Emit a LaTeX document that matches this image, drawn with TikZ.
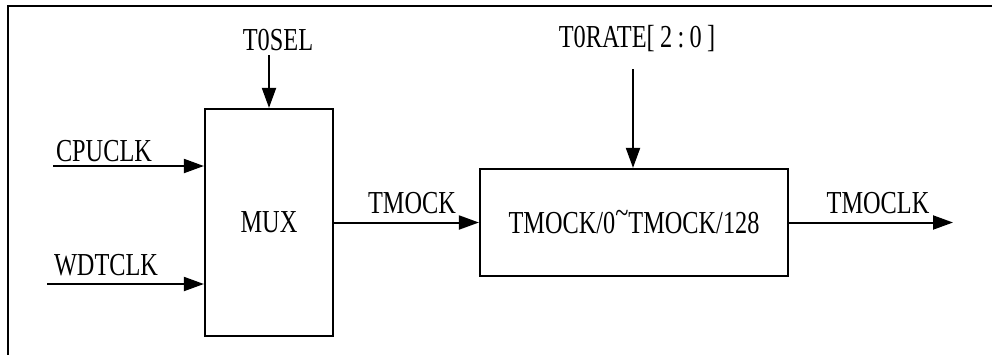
\documentclass[tikz,border=0pt]{standalone}
\usepackage{fontspec}
\setmainfont{Liberation Serif}[FakeStretch=0.76]
\usetikzlibrary{arrows.meta}
\begin{document}
\begin{tikzpicture}[x=1pt,y=-1pt,line width=2pt,
  sig/.style={-{Triangle[length=20pt,width=14pt]}},
  lbl/.style={font=\fontsize{32}{38}\selectfont,inner sep=0pt},
  blk/.style={draw,line width=2.2pt,inner sep=0pt,font=\fontsize{32}{38}\selectfont}]
\useasboundingbox (0,0) rectangle (992,354);
% outer frame, open to the right and bottom
\begin{scope}
  \clip (0,0) rectangle (992,354);
  \draw (1000,6) -- (8,6) -- (8,360);
\end{scope}

% blocks
\node[blk,minimum width=128pt,minimum height=227pt] (mux) at (269,222.5) {MUX};
\node[blk,minimum width=308pt,minimum height=107pt] (div) at (634,222.5)
  {TMOCK/0\raisebox{10pt}{\textasciitilde}TMOCK/128};

% signal sources and sink
\coordinate (cpu) at (53,166);
\coordinate (wdt) at (47,284);
\coordinate (sel) at (269,55);
\coordinate (rate) at (633,69);
\coordinate (out) at (953,222.5);

% connectors
\draw[sig] (cpu) -- (cpu -| mux.west);
\draw[sig] (wdt) -- (wdt -| mux.west);
\draw[sig] (sel) -- (sel |- mux.north);
\draw[sig] (mux.east) -- (div.west);
\draw[sig] (rate) -- (rate |- div.north);
\draw[sig] (div.east) -- (out);

% signal names
\node[lbl,anchor=base west] (lcpu) at (55,161) {CPUCLK};
\node[lbl,anchor=base west] (lwdt) at (53,275) {WDTCLK};
\node[lbl,anchor=base] (lsel) at (278,50) {T0SEL};
\node[lbl,anchor=base] (lmck) at (412,213) {TMOCK};
\node[lbl,anchor=base] (lrate) at (637,47) {T0RATE[\,2\,:\,0\,]};
\node[lbl,anchor=base] (lout) at (878,213) {TMOCLK};
\end{tikzpicture}
\end{document}
